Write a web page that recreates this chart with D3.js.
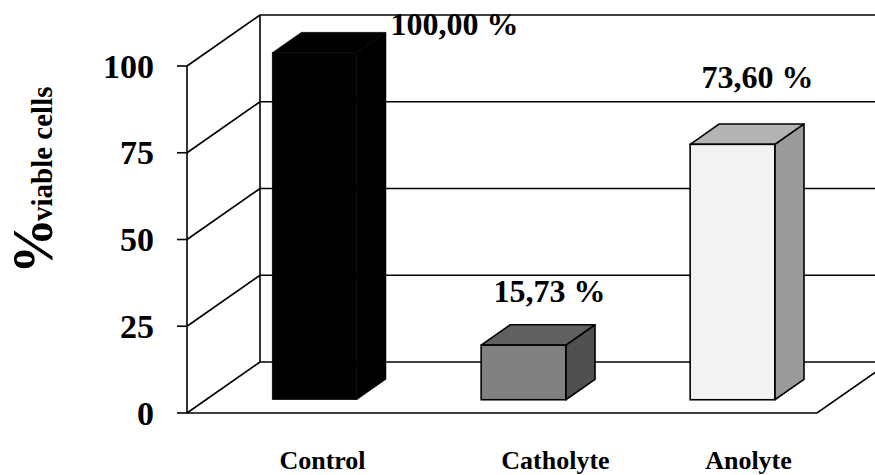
<!DOCTYPE html>
<html>
<head>
<meta charset="utf-8">
<script src="https://cdn.jsdelivr.net/npm/d3@7"></script>
<style>
  html, body { margin: 0; padding: 0; background: #fff; }
  svg { display: block; }
  text { font-family: "Liberation Serif", "Times New Roman", serif; font-weight: bold; fill: #000; }
</style>
</head>
<body>
<svg id="chart" width="875" height="475"></svg>
<script>
// ---- data ----
const categories = ["Control", "Catholyte", "Anolyte"];
const values = [100.00, 15.73, 73.60];
const valueLabels = ["100,00 %", "15,73 %", "73,60 %"];
const tickValues = [0, 25, 50, 75, 100];
const tickLabels = ["0", "25", "50", "75", "100"];
const frontColors = ["#000000", "#808080", "#f2f2f2"];
const topColors = ["#000000", "#606060", "#b4b4b4"];
const sideColors = ["#000000", "#505050", "#9a9a9a"];

// ---- layout ----
const left = 187, right = 817;
const depthX = 73, depthY = -51;          // offset from front plane to back wall
const barF0 = 0.26, barF1 = 0.66;         // bar front/back depth fractions
const svg = d3.select("#chart");

const y = d3.scaleLinear().domain([0, 100]).range([413, 66]);
const x = d3.scaleBand().domain(categories).range([191, 818]).padding(0);
const barW = x.bandwidth() * 0.405;

// layout nudges for labels (pixels)
const valueNudge = [[140, -378], [26, -56], [25, -70]];
const catNudge = [27, 51, 35];

const g = svg.append("g");
const stroke = "#000", sw = 1.6;

// back wall gridlines
g.selectAll("line.grid").data(tickValues).join("line")
  .attr("class", "grid")
  .attr("x1", left + depthX).attr("x2", right + depthX + 10)
  .attr("y1", d => y(d) + depthY).attr("y2", d => y(d) + depthY)
  .attr("stroke", stroke).attr("stroke-width", sw);
// back wall left vertical
g.append("line")
  .attr("x1", left + depthX).attr("x2", left + depthX)
  .attr("y1", y(0) + depthY).attr("y2", y(100) + depthY)
  .attr("stroke", stroke).attr("stroke-width", sw);
// side wall diagonals
g.selectAll("line.side").data(tickValues).join("line")
  .attr("class", "side")
  .attr("x1", left).attr("y1", d => y(d))
  .attr("x2", left + depthX).attr("y2", d => y(d) + depthY)
  .attr("stroke", stroke).attr("stroke-width", sw);
// floor front and right edges
g.append("path")
  .attr("d", `M${left},${y(0)}L${right},${y(0)}L${right + depthX},${y(0) + depthY}`)
  .attr("fill", "none").attr("stroke", stroke).attr("stroke-width", sw);
// front axis
g.append("line")
  .attr("x1", left).attr("x2", left).attr("y1", y(0)).attr("y2", y(100))
  .attr("stroke", stroke).attr("stroke-width", sw);
g.selectAll("line.tick").data(tickValues).join("line")
  .attr("class", "tick")
  .attr("x1", left - 10).attr("x2", left)
  .attr("y1", d => y(d)).attr("y2", d => y(d))
  .attr("stroke", stroke).attr("stroke-width", sw);
g.selectAll("text.tl").data(tickValues).join("text")
  .attr("class", "tl")
  .attr("x", 154).attr("y", d => y(d)).attr("dy", "0.34em")
  .attr("text-anchor", "end").style("font-size", "34px")
  .text((d, i) => tickLabels[i]);

// bars
const unit = (y(0) - y(100)) / 100;
const bars = categories.map((c, i) => {
  const cx = x(c) + x.bandwidth() / 2 + barF0 * depthX;
  const x0 = cx - barW / 2, x1 = cx + barW / 2;
  const yb = y(0) + barF0 * depthY;
  const yt = yb - values[i] * unit;
  const ddx = (barF1 - barF0) * depthX, ddy = (barF1 - barF0) * depthY;
  return { i, x0, x1, yb, yt, ddx, ddy };
});
const bg = g.append("g");
bars.forEach(b => {
  const lw = b.i === 0 ? 0.5 : sw;
  bg.append("path")
    .attr("d", `M${b.x1},${b.yb}L${b.x1 + b.ddx},${b.yb + b.ddy}L${b.x1 + b.ddx},${b.yt + b.ddy}L${b.x1},${b.yt}Z`)
    .attr("fill", sideColors[b.i]).attr("stroke", stroke).attr("stroke-width", lw).attr("stroke-linejoin", "round");
  bg.append("path")
    .attr("d", `M${b.x0},${b.yt}L${b.x0 + b.ddx},${b.yt + b.ddy}L${b.x1 + b.ddx},${b.yt + b.ddy}L${b.x1},${b.yt}Z`)
    .attr("fill", topColors[b.i]).attr("stroke", stroke).attr("stroke-width", lw).attr("stroke-linejoin", "round");
  bg.append("rect")
    .attr("x", b.x0).attr("y", b.yt).attr("width", b.x1 - b.x0).attr("height", b.yb - b.yt)
    .attr("fill", frontColors[b.i]).attr("stroke", stroke).attr("stroke-width", lw);
});

// value labels
g.selectAll("text.vl").data(bars).join("text")
  .attr("class", "vl")
  .attr("x", b => (b.x0 + b.x1) / 2 + valueNudge[b.i][0])
  .attr("y", b => y(0) + valueNudge[b.i][1] - (b.i === 0 ? 0 : values[b.i] * unit))
  .attr("text-anchor", "middle").style("font-size", "32px")
  .text(b => valueLabels[b.i]);

// category labels
g.selectAll("text.cat").data(categories).join("text")
  .attr("class", "cat")
  .attr("x", (c, i) => x(c) + x.bandwidth() / 2 + catNudge[i])
  .attr("y", 469)
  .attr("text-anchor", "middle").style("font-size", "26px")
  .text(c => c);

// y-axis title
svg.append("text")
  .attr("transform", "translate(52,274) rotate(-90)")
  .style("font-size", "56px").text("%");
svg.append("text")
  .attr("transform", "translate(52,221) rotate(-90)")
  .style("font-size", "29px").text("viable cells");
</script>
</body>
</html>
